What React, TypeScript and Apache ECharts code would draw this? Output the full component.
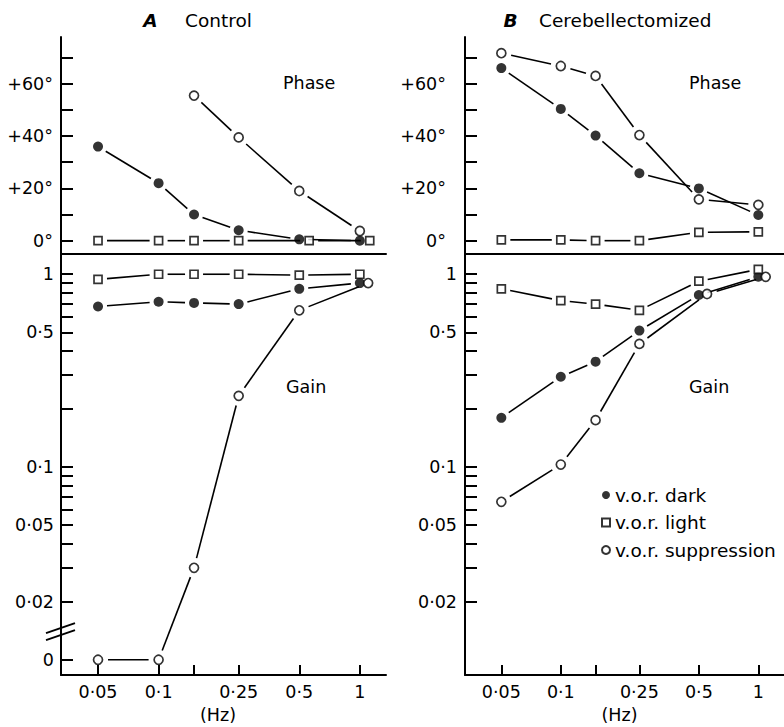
import React, { useEffect, useRef } from 'react';
import * as echarts from 'echarts';

const FONT = 'DejaVu Sans';
const INK = '#000';

// ---- axes / ticks ----
const freqTicks = [0.05, 0.1, 0.15, 0.25, 0.5, 1];
const freqLabelValues = [0.05, 0.1, 0.25, 0.5, 1];
const freqLabels = ['0·05', '0·1', '0·25', '0·5', '1'];

const phaseTicks = [0, 10, 20, 30, 40, 50, 60, 70];
const phaseLabelValues = [0, 20, 40, 60];
const phaseLabels = ['0°', '+20°', '+40°', '+60°'];

const gainTicks = [1, 0.9, 0.8, 0.7, 0.6, 0.5, 0.4, 0.3, 0.2, 0.1, 0.09, 0.08, 0.07, 0.06, 0.05, 0.04, 0.03, 0.02];
const gainLabelValues = [1, 0.5, 0.1, 0.05, 0.02];
const gainLabels = ['1', '0·5', '0·1', '0·05', '0·02'];

// ---- A: Control ----
const controlPhaseDark = [[0.05, 36], [0.1, 22], [0.15, 10], [0.25, 4], [0.5, 0.5], [1, 0]];
const controlPhaseLight = [[0.05, 0], [0.1, 0], [0.15, 0], [0.25, 0], [0.56, 0], [1.12, 0]];
const controlPhaseSupp = [[0.15, 55.5], [0.25, 39.5], [0.5, 19], [1, 3.7]];
const controlGainDark = [[0.05, 0.68], [0.1, 0.72], [0.15, 0.71], [0.25, 0.7], [0.5, 0.84], [1, 0.9]];
const controlGainLight = [[0.05, 0.94], [0.1, 1.0], [0.15, 1.0], [0.25, 1.0], [0.5, 0.99], [1, 1.0]];
const controlGainSupp = [[0.05, 0], [0.1, 0], [0.15, 0.03], [0.25, 0.234], [0.5, 0.65], [1.1, 0.9]];

// ---- B: Cerebellectomized ----
const cbxPhaseDark = [[0.05, 66], [0.1, 50.4], [0.15, 40.2], [0.25, 25.8], [0.5, 20], [1, 9.8]];
const cbxPhaseLight = [[0.05, 0.3], [0.1, 0.3], [0.15, 0], [0.25, 0], [0.5, 3.2], [1, 3.4]];
const cbxPhaseSupp = [[0.05, 71.7], [0.1, 66.8], [0.15, 63], [0.25, 40.4], [0.5, 15.8], [1, 13.7]];
const cbxGainDark = [[0.05, 0.18], [0.1, 0.294], [0.15, 0.352], [0.25, 0.51], [0.5, 0.78], [1, 0.97]];
const cbxGainLight = [[0.05, 0.84], [0.1, 0.73], [0.15, 0.7], [0.25, 0.65], [0.5, 0.92], [1, 1.06]];
const cbxGainSupp = [[0.05, 0.066], [0.1, 0.103], [0.15, 0.175], [0.25, 0.435], [0.55, 0.79], [1.09, 0.97]];

// ---- ranges (log10 of Hz / log10 of gain) ----
const X_MIN = -1.485;
const X_MAX = 0.13;
const PHASE_MIN = -5.1;
const PHASE_MAX = 77.9;
const GAIN_MIN = -2.079;
const GAIN_MAX = 0.105;
const GAIN_ZERO_POS = -2.0;
const BREAK_POS = -1.854;

const lg = (v: number) => Math.log10(v);
const toGain = (v: number) => (v === 0 ? GAIN_ZERO_POS : lg(v));

const lookup = (values: number[], labels: string[]) => (v: number) => {
  let best = -1;
  let bd = Infinity;
  values.forEach((u, i) => {
    const d = Math.abs(u - v);
    if (d < bd) { bd = d; best = i; }
  });
  return bd < 1e-6 ? labels[best] : '';
};

const textBase = { color: INK, fontFamily: FONT, fontSize: 17.5 };

function buildOption() {
  const grids: any[] = [];
  const xAxes: any[] = [];
  const yAxes: any[] = [];
  const series: any[] = [];

  const panels = [
    { left: 61, phase: [controlPhaseDark, controlPhaseLight, controlPhaseSupp], gain: [controlGainDark, controlGainLight, controlGainSupp], zero: true, phaseMargin: 8, gainMargin: 7 },
    { left: 465, phase: [cbxPhaseDark, cbxPhaseLight, cbxPhaseSupp], gain: [cbxGainDark, cbxGainLight, cbxGainSupp], zero: false, phaseMargin: 19, gainMargin: 8 },
  ];

  const names = ['v.o.r. dark', 'v.o.r. light', 'v.o.r. suppression'];
  const gaps = [9, 9, 10];
  const markerStyles = [
    { symbol: 'circle', symbolSize: 10, itemStyle: { color: INK } },
    { symbol: 'rect', symbolSize: 8, itemStyle: { color: '#fff', borderColor: INK, borderWidth: 1.7 } },
    { symbol: 'circle', symbolSize: 9, itemStyle: { color: '#fff', borderColor: INK, borderWidth: 1.7 } },
  ];

  panels.forEach((p, pi) => {
    const gPhase = pi * 2;
    const gGain = pi * 2 + 1;
    grids.push({ left: p.left, top: 37, width: 325, height: 217 });
    grids.push({ left: p.left, top: 254, width: 325, height: 421 });

    xAxes.push({
      type: 'value', gridIndex: gPhase, min: X_MIN, max: X_MAX,
      axisLine: { show: true, onZero: false, lineStyle: { color: INK, width: 2 } },
      axisTick: { show: false }, axisLabel: { show: false }, splitLine: { show: false },
    });
    const gainLabVals = p.zero ? [...gainLabelValues.map(lg), GAIN_ZERO_POS] : gainLabelValues.map(lg);
    const gainLabTxt = p.zero ? [...gainLabels, '0'] : gainLabels;
    const gainTickVals = p.zero ? [...gainTicks.map(lg), GAIN_ZERO_POS] : gainTicks.map(lg);
    xAxes.push({
      type: 'value', gridIndex: gGain, min: X_MIN, max: X_MAX,
      axisLine: { show: true, onZero: false, lineStyle: { color: INK, width: 2 } },
      axisTick: { show: true, inside: true, length: 10, lineStyle: { color: INK, width: 2 }, customValues: freqTicks.map(lg) },
      axisLabel: { ...textBase, margin: 8, customValues: freqLabelValues.map(lg), formatter: lookup(freqLabelValues.map(lg), freqLabels) },
      splitLine: { show: false },
    });
    yAxes.push({
      type: 'value', gridIndex: gPhase, min: PHASE_MIN, max: PHASE_MAX,
      axisLine: { show: true, onZero: false, lineStyle: { color: INK, width: 2 } },
      axisTick: { show: true, inside: true, length: 12, lineStyle: { color: INK, width: 2 }, customValues: phaseTicks },
      axisLabel: { ...textBase, margin: p.phaseMargin, customValues: phaseLabelValues, formatter: lookup(phaseLabelValues, phaseLabels) },
      splitLine: { show: false },
    });
    yAxes.push({
      type: 'value', gridIndex: gGain, min: GAIN_MIN, max: GAIN_MAX,
      axisLine: { show: true, onZero: false, lineStyle: { color: INK, width: 2 } },
      axisTick: { show: true, inside: true, length: 12, lineStyle: { color: INK, width: 2 }, customValues: gainTickVals },
      axisLabel: { ...textBase, margin: p.gainMargin, customValues: gainLabVals, formatter: lookup(gainLabVals, gainLabTxt) },
      splitLine: { show: false },
    });

    const addSet = (g: number, sets: number[][][], isGain: boolean) => {
      const conv = sets.map((s) => s.map(([x, y]) => [lg(x), isGain ? toGain(y) : y]));
      conv.forEach((d, i) => {
        const gap = gaps[i];
        series.push({
          type: 'custom', name: `line-${pi}-${g}-${i}`, xAxisIndex: g, yAxisIndex: g, data: d,
          encode: { x: 0, y: 1 }, z: 2, silent: true, clip: false,
          renderItem: (params: any, api: any) => {
            const k = params.dataIndex;
            if (k >= d.length - 1) return null;
            const a = api.coord(d[k]);
            const b = api.coord(d[k + 1]);
            const dx = b[0] - a[0];
            const dy = b[1] - a[1];
            const len = Math.sqrt(dx * dx + dy * dy);
            if (len <= 2 * gap + 1) return null;
            const ux = dx / len;
            const uy = dy / len;
            return {
              type: 'line',
              shape: { x1: a[0] + ux * gap, y1: a[1] + uy * gap, x2: b[0] - ux * gap, y2: b[1] - uy * gap },
              style: { stroke: INK, lineWidth: 1.6 },
            };
          },
        });
      });
      conv.forEach((d, i) => {
        series.push({
          type: 'scatter', name: names[i], xAxisIndex: g, yAxisIndex: g, data: d,
          ...markerStyles[i], z: 4, silent: true,
        });
      });
    };
    addSet(gPhase, p.phase, false);
    addSet(gGain, p.gain, true);
  });

  // axis break on control gain axis
  series.push({
    type: 'custom', name: 'break', xAxisIndex: 1, yAxisIndex: 1, data: [[X_MIN, BREAK_POS]], clip: false, silent: true, z: 5,
    renderItem: (params: any, api: any) => {
      const c = api.coord([api.value(0), api.value(1)]);
      return {
        type: 'group',
        children: [
          { type: 'line', shape: { x1: c[0] - 15, y1: c[1] + 1.5, x2: c[0] + 14, y2: c[1] - 8.5 }, style: { stroke: INK, lineWidth: 2 } },
          { type: 'line', shape: { x1: c[0] - 15, y1: c[1] + 8.5, x2: c[0] + 14, y2: c[1] - 1.5 }, style: { stroke: INK, lineWidth: 2 } },
        ],
      };
    },
  });

  const txt = (text: string, x: number, y: number, extra: any = {}) => ({
    type: 'text', x, y, silent: true,
    style: { text, fill: INK, fontFamily: FONT, fontSize: 17.5, textAlign: 'left', textVerticalAlign: 'middle', ...extra },
  });

  return {
    animation: false,
    backgroundColor: '#fff',
    textStyle: { fontFamily: FONT },
    grid: grids,
    xAxis: xAxes,
    yAxis: yAxes,
    legend: {
      show: true, orient: 'vertical', left: 596, top: 480, itemWidth: 8, itemHeight: 8, itemGap: 7.5,
      selectedMode: false,
      textStyle: { color: INK, fontFamily: FONT, fontSize: 18.5, lineHeight: 20 },
      data: names,
    },
    series,
    graphic: [
      txt('A', 150.5, 20, { fontStyle: 'italic', fontWeight: 'bold', fontSize: 18.5, textAlign: 'center' }),
      txt('Control', 185, 20, { fontSize: 18.5 }),
      txt('B', 510.5, 20, { fontStyle: 'italic', fontWeight: 'bold', fontSize: 18.5, textAlign: 'center' }),
      txt('Cerebellectomized', 539, 20, { fontSize: 18.5 }),
      txt('Phase', 283, 83),
      txt('Phase', 689, 83),
      txt('Gain', 286, 387),
      txt('Gain', 689, 387),
      txt('(Hz)', 218, 715, { textAlign: 'center' }),
      txt('(Hz)', 619.5, 715, { textAlign: 'center' }),
    ],
  };
}

export default function App() {
  const ref = useRef<HTMLDivElement>(null);
  useEffect(() => {
    if (!ref.current) return;
    const chart = echarts.init(ref.current, undefined, { renderer: 'svg' });
    chart.setOption(buildOption() as any);
    return () => chart.dispose();
  }, []);
  return (
    <div
      ref={ref}
      style={{ position: 'fixed', left: 0, top: 0, width: 784, height: 727, background: '#fff' }}
    />
  );
}
